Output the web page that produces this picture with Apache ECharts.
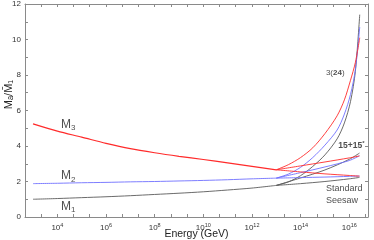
<!DOCTYPE html>
<html><head><meta charset="utf-8">
<script src="https://cdn.jsdelivr.net/npm/echarts@6/dist/echarts.min.js"></script>
<style>html,body{margin:0;padding:0;background:#fff}#c{width:374px;height:240px}</style>
</head><body><div id="c"></div>
<script>
// x = log10(Energy / GeV)
const lowX = [3,4,5,6,7,8,9,10,11,12,13];
const m3Low = [5.25,4.84,4.5,4.15,3.85,3.62,3.42,3.24,3.05,2.85,2.66];
const m2Low = [1.88,1.9,1.93,1.95,1.98,2.0,2.03,2.06,2.1,2.15,2.19];
const m1Low = [1.0,1.04,1.09,1.14,1.2,1.27,1.34,1.42,1.52,1.63,1.78];

// 3(24) branch
const x24 = [13,13.5,14,14.5,15,15.5,15.8,16.05,16.25,16.43];
const m3_24 = [2.66,2.95,3.35,3.9,4.7,5.7,6.6,7.7,8.7,10.1];
const m2_24 = [2.19,2.42,2.8,3.35,4.05,4.9,5.8,6.9,8.3,10.7];
const m1_24 = [1.78,1.98,2.33,2.85,3.5,4.4,5.3,6.5,8.2,11.4];

// 15+15* branch
const x15 = [13,14,15,16,16.42];
const m3_15 = [2.66,2.88,3.1,3.33,3.44];
const m2_15 = [2.19,2.5,2.82,3.18,3.45];
const m1_15 = [1.78,2.2,2.65,3.25,3.6];

// Standard seesaw branch
const xSS = [13,14,15,16,16.42];
const m3_SS = [2.66,2.54,2.43,2.34,2.3];
const m2_SS = [2.19,2.22,2.25,2.29,2.31];
const m1_SS = [1.78,1.88,2.0,2.15,2.23];

const xLabelVals = [4,6,8,10,12,14,16];
const xTickVals = [3.33,4,4.67,5.33,6,6.67,7.33,8,8.67,9.33,10,10.67,11.33,12,12.67,13.33,14,14.67,15.33,16,16.67];

const RED = '#ff2b2b', BLUE = '#6f6fff', GRAY = '#5a5a5a';
const pair = (xs, ys) => xs.map((x, i) => [x, ys[i]]);
function line(xs, ys, color, w) {
  return {type:'line', data: pair(xs, ys), showSymbol:false, smooth:0.3,
    lineStyle:{color:color, width:w||0.9}, itemStyle:{color:color}, silent:true, z:3};
}
const FONT = 'Liberation Sans';
const chart = echarts.init(document.getElementById('c'), null, {renderer:'canvas'});
const axisCol = '#8a8a8a';
const xBase = {type:'value', min:2.67, max:16.77,
  axisLine:{show:true, onZero:false, lineStyle:{color:axisCol, width:1}},
  axisTick:{show:true, inside:true, length:3, customValues:xTickVals, lineStyle:{color:axisCol}},
  splitLine:{show:false}};
const yBase = {type:'value', min:0, max:12, interval:1,
  axisLine:{show:true, lineStyle:{color:axisCol, width:1}},
  axisTick:{show:true, inside:true, length:3, lineStyle:{color:axisCol}},
  splitLine:{show:false}};
const labelSeries = (x, y, text, rich, fs, fw) => ({
  type:'scatter', data:[[x, y]], symbolSize:0, silent:true, z:5,
  label:{show:true, position:'right', distance:0, formatter:text, fontFamily:FONT,
    fontSize:fs, fontWeight:fw||'normal', color:'#222', rich:rich||{}, lineHeight:fs+2}
});
const subRich = {s:{fontSize:8, padding:[7,0,0,0], fontFamily:FONT, color:'#222'}};
chart.setOption({
  animation:false,
  grid:{left:25, right:6, top:4, bottom:23, containLabel:false, outerBoundsMode:'none'},
  graphic:[{type:'text', left:3, top:80, rotation:Math.PI/2, originX:0, originY:0,
    style:{text:'M\u2090/M\u0304\u2081', font:'11px "Liberation Sans"', fill:'#222'}}],
  xAxis:[
    Object.assign({}, xBase, {position:'bottom', name:'Energy (GeV)', nameLocation:'middle', nameGap:12,
      nameMoveOverlap:false,
      nameTextStyle:{fontFamily:FONT, fontSize:10.5, color:'#222'},
      axisLabel:{show:true, customValues:xLabelVals, margin:5, fontFamily:FONT, fontSize:8, color:'#333',
        formatter: v => '10{sup|' + v + '}',
        rich:{sup:{fontSize:5.5, padding:[0,0,5,0], fontFamily:FONT, color:'#333'}}}}),
    Object.assign({}, xBase, {position:'top', axisLabel:{show:false}})
  ],
  yAxis:[
    Object.assign({}, yBase, {position:'left',
      axisLabel:{show:true, margin:4, fontFamily:FONT, fontSize:8, color:'#333',
        formatter: v => (v % 2 === 0 ? String(v) : '')}}),
    Object.assign({}, yBase, {position:'right', axisLabel:{show:false}})
  ],
  series:[
    line(lowX, m1Low, GRAY), line(lowX, m2Low, BLUE), line(lowX, m3Low, RED, 1.2),
    line(x24, m1_24, GRAY), line(x24, m2_24, BLUE), line(x24, m3_24, RED),
    line(x15, m1_15, GRAY), line(x15, m2_15, BLUE), line(x15, m3_15, RED),
    line(xSS, m1_SS, GRAY), line(xSS, m2_SS, BLUE), line(xSS, m3_SS, RED),
    labelSeries(4.15, 5.2, 'M{s|3}', subRich, 12),
    labelSeries(4.15, 2.3, 'M{s|2}', subRich, 12),
    labelSeries(4.15, 0.6, 'M{s|1}', subRich, 12),
    labelSeries(15.04, 8.15, '3({b|24})', {b:{fontWeight:'bold', fontSize:8, fontFamily:FONT, color:'#222'}}, 8),
    labelSeries(15.55, 4.0, '15+15{sp|*}', {sp:{fontSize:6, fontWeight:'bold', padding:[0,0,5,0], fontFamily:FONT, color:'#222'}}, 8.5, 'bold'),
    labelSeries(15.04, 1.6, 'Standard', null, 9),
    labelSeries(15.04, 0.95, 'Seesaw', null, 9)
  ]
});
</script></body></html>
